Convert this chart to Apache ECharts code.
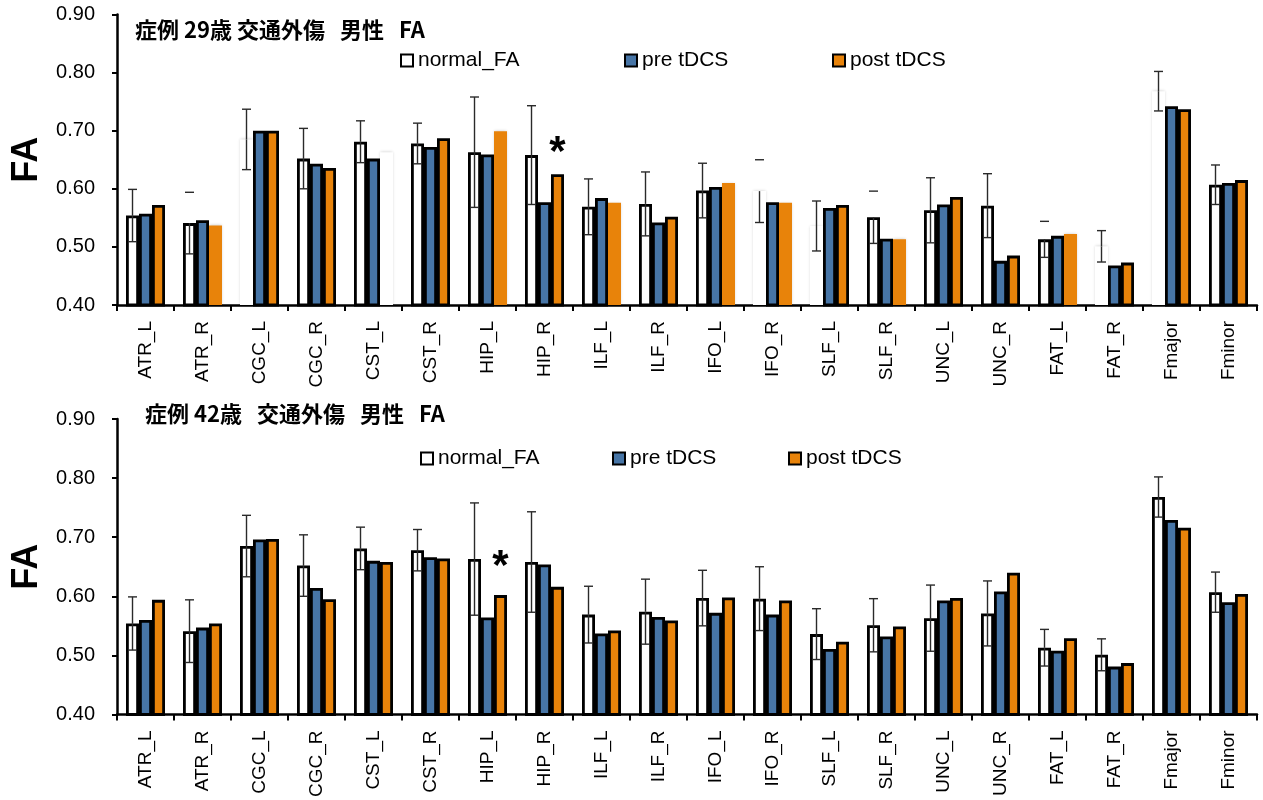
<!DOCTYPE html>
<html>
<head>
<meta charset="utf-8">
<script src="https://cdn.jsdelivr.net/npm/echarts@6/dist/echarts.min.js"></script>
<style>
  html, body { margin: 0; padding: 0; background: #fff; }
  #chart { width: 1263px; height: 800px; }
</style>
</head>
<body>
<div id="chart"></div>
<script>
// Tract names along the x axis
const categories = ['ATR_L', 'ATR_R', 'CGC_L', 'CGC_R', 'CST_L', 'CST_R', 'HIP_L', 'HIP_R', 'ILF_L', 'ILF_R',
                    'IFO_L', 'IFO_R', 'SLF_L', 'SLF_R', 'UNC_L', 'UNC_R', 'FAT_L', 'FAT_R', 'Fmajor', 'Fminor'];

// Normative FA (mean and SD), shared by both cases
const normalFA = [0.554, 0.541, 0.685, 0.652, 0.681, 0.678, 0.663, 0.658, 0.569, 0.574,
                  0.597, 0.596, 0.536, 0.551, 0.563, 0.571, 0.513, 0.501, 0.768, 0.607];
const normalSD = [0.045, 0.053, 0.052, 0.052, 0.036, 0.035, 0.095, 0.085, 0.048, 0.055,
                  0.047, 0.054, 0.043, 0.045, 0.056, 0.055, 0.031, 0.027, 0.034, 0.034];

// Case 1: 29 years old
const pre29  = [0.557, 0.546, 0.700, 0.643, 0.652, 0.672, 0.659, 0.577, 0.584, 0.542,
                0.603, 0.577, 0.567, 0.514, 0.573, 0.476, 0.519, 0.468, 0.742, 0.610];
const post29 = [0.572, 0.537, 0.700, 0.636, 0.663, 0.687, 0.699, 0.625, 0.576, 0.552,
                0.610, 0.576, 0.572, 0.513, 0.586, 0.485, 0.522, 0.473, 0.737, 0.615];

// Case 2: 42 years old
const pre42  = [0.560, 0.547, 0.696, 0.614, 0.660, 0.666, 0.564, 0.654, 0.537, 0.565,
                0.572, 0.569, 0.511, 0.532, 0.593, 0.608, 0.508, 0.481, 0.729, 0.590];
const post42 = [0.594, 0.554, 0.697, 0.595, 0.658, 0.664, 0.602, 0.616, 0.542, 0.559,
                0.598, 0.593, 0.523, 0.549, 0.597, 0.640, 0.529, 0.487, 0.716, 0.604];

// Significance markers: [tract, height in FA units]
const star29 = ['HIP_R', 0.661];
const star42 = ['HIP_L', 0.649];

// Value axis range
const yMin = 0.4, yMax = 0.9, yStep = 0.1;

// Bars in the first panel that were exported without outline
const plainNormal29 = ['CGC_L', 'IFO_R', 'SLF_L', 'FAT_R', 'Fmajor'];
const plainPost29   = ['ATR_R', 'HIP_L', 'ILF_L', 'IFO_L', 'IFO_R', 'SLF_R', 'FAT_L'];
const blankPost29   = ['CST_L'];
const capOnly29     = ['ATR_R', 'IFO_R', 'SLF_R', 'FAT_L'];

const titles = ['症例 29歳 交通外傷   男性   FA', '症例 42歳   交通外傷   男性   FA'];
const legendNames = ['normal_FA', 'pre tDCS', 'post tDCS'];

const WHITE = '#ffffff', BLUE = '#4775A6', ORANGE = '#E8830A';
const BAR_FRAC = 0.228;
const FONT = '"Liberation Sans", Arial, sans-serif';
const CJK = '"Noto Sans CJK JP", sans-serif';

const grids = [
  { left: 117, right: 6, top: 14.5, height: 290.5 },
  { left: 117, right: 6, top: 419, height: 296 }
];

function styled(values, plain, blank) {
  return values.map((v, i) => {
    const c = categories[i];
    if (blank && blank.includes(c)) {
      return { value: v, itemStyle: { color: '#ffffff', borderWidth: 0, shadowBlur: 3, shadowColor: 'rgba(0,0,0,0.2)' } };
    }
    if (plain && plain.includes(c)) {
      return { value: v, itemStyle: { borderWidth: 0, shadowBlur: 3, shadowColor: 'rgba(0,0,0,0.2)' } };
    }
    return v;
  });
}

function errorSeries(idx, capOnly) {
  return {
    type: 'custom',
    name: 'SD' + idx,
    xAxisIndex: idx, yAxisIndex: idx,
    z: 5,
    silent: true,
    encode: { x: 0, y: 1 },
    data: normalFA.map((m, j) => [j, m, normalSD[j], capOnly && capOnly.includes(categories[j]) ? 1 : 0]),
    renderItem: function (params, api) {
      const j = api.value(0), m = api.value(1), sd = api.value(2), onlyCap = api.value(3);
      const bw = api.size([1, 0])[0];
      const cx = api.coord([j, m])[0] - bw * BAR_FRAC;
      const yM = api.coord([j, m])[1];
      const yT = api.coord([j, m + sd])[1];
      const yB = api.coord([j, m - sd])[1];
      const hw = 4.5;
      const st = { stroke: '#2a2a2a', lineWidth: 1.4 };
      const kids = [
        { type: 'line', shape: { x1: cx - hw, y1: yT, x2: cx + hw, y2: yT }, style: st },
        { type: 'line', shape: { x1: cx - hw, y1: yB, x2: cx + hw, y2: yB }, style: st },
        { type: 'line', shape: { x1: cx, y1: yM, x2: cx, y2: yB }, style: st }
      ];
      if (!onlyCap) {
        kids.push({ type: 'line', shape: { x1: cx, y1: yT, x2: cx, y2: yM }, style: st });
      }
      return { type: 'group', children: kids };
    }
  };
}

function barSeries(idx, name, color, values, star) {
  const s = {
    type: 'bar',
    name: name,
    xAxisIndex: idx, yAxisIndex: idx,
    barWidth: (BAR_FRAC * 100) + '%',
    barGap: '0%',
    itemStyle: { color: color, borderColor: '#000', borderWidth: 2.8 },
    data: values
  };
  if (star) {
    s.markPoint = {
      symbol: 'rect', symbolSize: 1,
      itemStyle: { color: 'rgba(0,0,0,0)' },
      label: { show: true, position: 'inside', formatter: '*', fontSize: 42, fontWeight: 'bold', color: '#000', fontFamily: FONT },
      data: [{ coord: star }]
    };
  }
  return s;
}

const xAxes = grids.map((g, i) => ({
  type: 'category', gridIndex: i, data: categories,
  axisLine: { lineStyle: { color: '#000', width: 2.5 } },
  axisTick: { show: true, length: 6, lineStyle: { color: '#000', width: 2 } },
  axisLabel: { rotate: 90, margin: 16, fontSize: 19, color: '#000', fontFamily: FONT, interval: 0 }
}));

const yAxes = grids.map((g, i) => ({
  type: 'value', gridIndex: i, min: yMin, max: yMax, interval: yStep,
  name: 'FA', nameLocation: 'middle', nameRotate: 90, nameGap: 67,
  nameTextStyle: { fontSize: 36, fontWeight: 'bold', color: '#000', fontFamily: FONT },
  axisLine: { show: true, lineStyle: { color: '#000', width: 2.5 } },
  axisTick: { show: true, length: 5, lineStyle: { color: '#000', width: 2 } },
  splitLine: { show: false },
  axisLabel: { margin: 22, fontSize: 20, color: '#000', fontFamily: FONT, formatter: v => v.toFixed(2) }
}));

// Legend item positions for each panel
const legendPos = [
  [[400, 50], [624, 50], [832, 50]],
  [[420, 448], [612, 448], [788, 448]]
];
const legends = [];
legendPos.forEach(row => row.forEach((p, k) => {
  legends.push({
    data: [legendNames[k]], left: p[0], top: p[1], padding: 0,
    icon: 'rect', itemWidth: 12, itemHeight: 12,
    selectedMode: false,
    textStyle: { fontSize: 21, color: '#000', fontFamily: FONT }
  });
}));

const option = {
  animation: false,
  backgroundColor: '#ffffff',
  title: [
    { text: titles[0], left: 135, top: 19, padding: 0,
      textStyle: { fontSize: 22, fontWeight: 'bold', color: '#000', fontFamily: CJK } },
    { text: titles[1], left: 145, top: 403, padding: 0,
      textStyle: { fontSize: 22, fontWeight: 'bold', color: '#000', fontFamily: CJK } }
  ],
  legend: legends,
  grid: grids,
  xAxis: xAxes,
  yAxis: yAxes,
  series: [
    barSeries(0, legendNames[0], WHITE, styled(normalFA, plainNormal29)),
    barSeries(0, legendNames[1], BLUE, pre29),
    barSeries(0, legendNames[2], ORANGE, styled(post29, plainPost29, blankPost29), star29),
    errorSeries(0, capOnly29),
    barSeries(1, legendNames[0], WHITE, normalFA),
    barSeries(1, legendNames[1], BLUE, pre42),
    barSeries(1, legendNames[2], ORANGE, post42, star42),
    errorSeries(1, null)
  ]
};

const chart = echarts.init(document.getElementById('chart'), null, { renderer: 'canvas' });
chart.setOption(option);
</script>
</body>
</html>
